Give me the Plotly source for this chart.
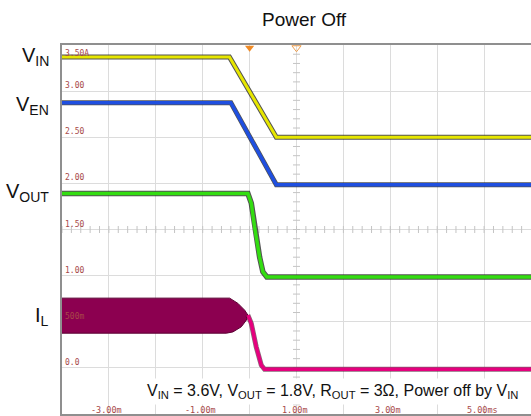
import plotly.graph_objects as go
import numpy as np

# ---- data (time in ms, values in V / A) ----
t_vin = [-4.0, -0.43, 0.57, 6.0]
v_vin = [3.37, 3.37, 2.50, 2.50]

t_ven = [-4.0, -0.40, 0.57, 6.0]
v_ven = [2.875, 2.875, 1.985, 1.985]

t_vout = [-4.0, -0.036, 0.036, 0.106, 0.213, 0.283, 0.368, 6.0]
v_vout = [1.89, 1.89, 1.786, 1.526, 1.201, 1.041, 0.985, 0.985]

t_il_hi = [-4.0, -0.426, -0.249, -0.106, -0.036]
v_il_hi = [0.756, 0.756, 0.699, 0.626, 0.572]
t_il_lo = [-4.0, -0.496, -0.355, -0.177, -0.070, -0.036]
v_il_lo = [0.376, 0.376, 0.390, 0.445, 0.517, 0.572]
t_il = [-0.036, 0.036, 0.141, 0.249, 0.319, 6.0]
v_il = [0.572, 0.482, 0.228, 0.029, -0.015, -0.015]

x_tick_vals = [-3, -1, 1, 3, 5]
x_tick_text = ["-3.00m", "-1.00m", "1.00m", "3.00m", "5.00ms"]
y_tick_vals = [3.5, 3.0, 2.5, 2.0, 1.5, 1.0, 0.5, 0.0]
y_tick_text = ["3.50A", "3.00", "2.50", "2.00", "1.50", "1.00", "500m", "0.0"]

sig_labels = ["V<sub>IN</sub>", "V<sub>EN</sub>", "V<sub>OUT</sub>", "I<sub>L</sub>"]
sig_label_y = [3.38, 2.84, 1.90, 0.56]

title_text = "Power Off"
note_text = ("V<sub>IN</sub> = 3.6V, V<sub>OUT</sub> = 1.8V, R<sub>OUT</sub> = 3\u03a9, "
             "Power off by V<sub>IN</sub>")

X_RANGE = [-4, 6]
Y_RANGE = [-0.5, 3.5]

fig = go.Figure()

# graticule centre-line minor ticks
cx = np.arange(-4, 6.001, 0.2)
fig.add_trace(go.Scatter(x=cx, y=[1.5] * len(cx), mode="markers",
                         marker=dict(symbol="line-ns", size=5, line=dict(width=1, color="#c4c4c4")),
                         hoverinfo="skip", showlegend=False))
cy = np.arange(-0.5, 3.501, 0.1)
fig.add_trace(go.Scatter(x=[1] * len(cy), y=cy, mode="markers",
                         marker=dict(symbol="line-ew", size=5, line=dict(width=1, color="#c4c4c4")),
                         hoverinfo="skip", showlegend=False))

def trace_pair(t, v, color, w, dark_w):
    fig.add_trace(go.Scatter(x=t, y=v, mode="lines",
                             line=dict(color="rgba(25,25,25,0.75)", width=dark_w),
                             hoverinfo="skip", showlegend=False))
    fig.add_trace(go.Scatter(x=t, y=v, mode="lines", line=dict(color=color, width=w),
                             hoverinfo="skip", showlegend=False))

trace_pair(t_vin, v_vin, "#e6e600", 3, 5)
trace_pair(t_ven, v_ven, "#1f4fe0", 3.5, 5)
trace_pair(t_vout, v_vout, "#33dd11", 3.5, 5.5)

# inductor current: dense switching band + falling edge
band_t = t_il_hi + t_il_lo[::-1]
band_v = v_il_hi + v_il_lo[::-1]
fig.add_trace(go.Scatter(x=band_t, y=band_v, mode="lines", fill="toself",
                         fillcolor="#8c0050", line=dict(color="#5c0034", width=1),
                         hoverinfo="skip", showlegend=False))
fig.add_trace(go.Scatter(x=t_il, y=v_il, mode="lines",
                         line=dict(color="rgba(60,0,30,0.6)", width=5),
                         hoverinfo="skip", showlegend=False))
fig.add_trace(go.Scatter(x=t_il, y=v_il, mode="lines",
                         line=dict(color="#e6007e", width=3.5),
                         hoverinfo="skip", showlegend=False))

# scope markers
fig.add_trace(go.Scatter(x=[0], y=[3.47], mode="markers", cliponaxis=False,
                         marker=dict(symbol="triangle-down", size=8, color="#f08a24"),
                         hoverinfo="skip", showlegend=False))
fig.add_trace(go.Scatter(x=[1], y=[3.47], mode="markers", cliponaxis=False,
                         marker=dict(symbol="triangle-down-open", size=8, color="#f0a050"),
                         hoverinfo="skip", showlegend=False))
fig.add_trace(go.Scatter(x=[-4.07, -4.07, -4.07], y=[2.53, 2.0, 1.0], mode="markers", cliponaxis=False,
                         marker=dict(symbol="triangle-right", size=6,
                                     color=["#3a6cff", "#3a6cff", "#44ee44"]),
                         hoverinfo="skip", showlegend=False))
fig.add_trace(go.Scatter(x=[-4.1], y=[2.44], mode="markers", cliponaxis=False,
                         marker=dict(symbol="square", size=5, color="#f0f040"),
                         hoverinfo="skip", showlegend=False))
fig.add_trace(go.Scatter(x=[-4.09], y=[0.0], mode="markers", cliponaxis=False,
                         marker=dict(symbol="square", size=8, color="#cc0070"),
                         hoverinfo="skip", showlegend=False))

annotations = []
for val, txt in zip(y_tick_vals, y_tick_text):
    top = val == Y_RANGE[1]
    annotations.append(dict(x=X_RANGE[0], y=val, xref="x", yref="y", text=txt, showarrow=False,
                            xanchor="left", yanchor="top" if top else "bottom", xshift=1,
                            yshift=-2 if top else -1,
                            font=dict(family="DejaVu Sans Mono", size=8, color="#a84848")))
for val, txt in zip(x_tick_vals, x_tick_text):
    annotations.append(dict(x=val, y=Y_RANGE[0], xref="x", yref="y", text=txt, showarrow=False,
                            xanchor="center", yanchor="bottom", xshift=-2, yshift=-3,
                            font=dict(family="DejaVu Sans Mono", size=8.5, color="#a84848")))
for txt, yv in zip(sig_labels, sig_label_y):
    annotations.append(dict(x=-11 / 469, y=yv, xref="paper", yref="y", text=txt, showarrow=False,
                            xanchor="right", yanchor="middle",
                            font=dict(family="Liberation Sans, Arial", size=20, color="#111")))
annotations.append(dict(x=1.777, y=-0.258, xref="x", yref="y", text=note_text, showarrow=False,
                        xanchor="center", yanchor="middle", bgcolor="white", borderpad=3,
                        font=dict(family="Liberation Sans, Arial", size=16, color="#111")))
annotations.append(dict(x=(304 - 62) / 469, y=1 + (45 - 19) / 369, xref="paper", yref="paper",
                        text=title_text, showarrow=False, xanchor="center", yanchor="middle",
                        font=dict(family="Liberation Sans, Arial", size=19, color="#111")))

fig.update_layout(
    width=531, height=416, autosize=False,
    margin=dict(l=62, r=0, t=45, b=2),
    plot_bgcolor="white", paper_bgcolor="white",
    showlegend=False, annotations=annotations,
    xaxis=dict(range=X_RANGE, dtick=1, tick0=0, showgrid=True, gridcolor="#dcdcdc", gridwidth=1,
               showticklabels=False, zeroline=False, showline=True, linecolor="#8f8f8f",
               linewidth=2, mirror=True, ticks=""),
    yaxis=dict(range=Y_RANGE, dtick=0.5, tick0=0, showgrid=True, gridcolor="#dcdcdc", gridwidth=1,
               showticklabels=False, zeroline=False, showline=True, linecolor="#8f8f8f",
               linewidth=2, ticks=""),
)

fig.write_html("out.html")
